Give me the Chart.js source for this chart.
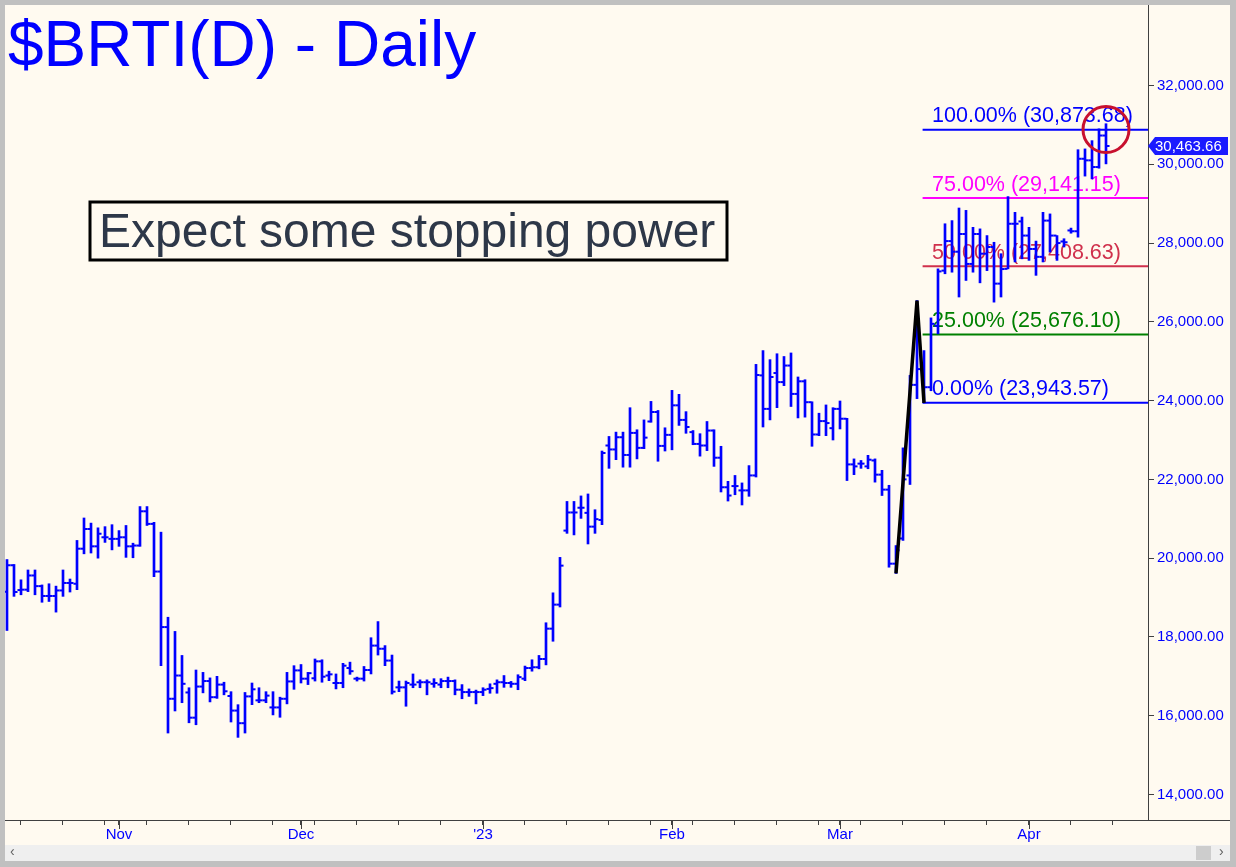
<!DOCTYPE html>
<html><head><meta charset="utf-8">
<script src="https://cdn.jsdelivr.net/npm/chart.js@4.4.1/dist/chart.umd.min.js"></script>
<style>html,body{margin:0;padding:0;background:#c0c0c0;overflow:hidden}canvas{display:block}</style>
</head><body>
<canvas id="c" width="1236" height="867"></canvas>
<script>
// ---------- data ----------
const dates = [
'2022-10-13','2022-10-14','2022-10-16','2022-10-17','2022-10-18','2022-10-19','2022-10-20','2022-10-21','2022-10-23','2022-10-24','2022-10-25','2022-10-26','2022-10-27','2022-10-28','2022-10-30','2022-10-31',
'2022-11-01','2022-11-02','2022-11-03','2022-11-04','2022-11-06','2022-11-07','2022-11-08','2022-11-09','2022-11-10','2022-11-11','2022-11-13','2022-11-14','2022-11-15','2022-11-16','2022-11-17','2022-11-18','2022-11-20','2022-11-21','2022-11-22','2022-11-23','2022-11-24','2022-11-25','2022-11-27','2022-11-28','2022-11-29','2022-11-30',
'2022-12-01','2022-12-02','2022-12-04','2022-12-05','2022-12-06','2022-12-07','2022-12-08','2022-12-09','2022-12-11','2022-12-12','2022-12-13','2022-12-14','2022-12-15','2022-12-16','2022-12-18','2022-12-19','2022-12-20','2022-12-21','2022-12-22','2022-12-23','2022-12-25','2022-12-26','2022-12-27','2022-12-28','2022-12-29','2022-12-30',
'2023-01-01','2023-01-02','2023-01-03','2023-01-04','2023-01-05','2023-01-06','2023-01-08','2023-01-09','2023-01-10','2023-01-11','2023-01-12','2023-01-13','2023-01-15','2023-01-16','2023-01-17','2023-01-18','2023-01-19','2023-01-20','2023-01-22','2023-01-23','2023-01-24','2023-01-25','2023-01-26','2023-01-27','2023-01-29','2023-01-30','2023-01-31',
'2023-02-01','2023-02-02','2023-02-03','2023-02-05','2023-02-06','2023-02-07','2023-02-08','2023-02-09','2023-02-10','2023-02-12','2023-02-13','2023-02-14','2023-02-15','2023-02-16','2023-02-17','2023-02-19','2023-02-20','2023-02-21','2023-02-22','2023-02-23','2023-02-24','2023-02-26','2023-02-27','2023-02-28',
'2023-03-01','2023-03-02','2023-03-03','2023-03-05','2023-03-06','2023-03-07','2023-03-08','2023-03-09','2023-03-10','2023-03-12','2023-03-13','2023-03-14','2023-03-15','2023-03-16','2023-03-17','2023-03-19','2023-03-20','2023-03-21','2023-03-22','2023-03-23','2023-03-24','2023-03-26','2023-03-27','2023-03-28','2023-03-29','2023-03-30','2023-03-31',
'2023-04-02','2023-04-03','2023-04-04','2023-04-05','2023-04-06','2023-04-07','2023-04-09','2023-04-10','2023-04-11','2023-04-12','2023-04-13','2023-04-14'
];
const opens = [
19150,19820,19190,19200,19560,19290,19040,19040,19180,19370,19350,20240,20740,20300,20530,20490,
20490,20530,20300,20320,21190,20870,19660,18250,16430,17020,16590,15950,16740,16880,16470,16790,16500,16130,15810,16490,16390,16390,16210,16210,16430,16870,
17150,16940,16950,17380,17020,16830,16830,17210,16940,16940,17160,17780,17700,17400,16720,16720,16790,16850,16850,16810,16790,16880,16880,16660,16600,16600,
16600,16680,16810,16850,16830,16810,16940,17210,17230,17440,18210,18820,20700,21160,21280,21150,20800,20970,22860,22760,23070,22620,23180,22800,23470,23710,22850,
23130,23880,23510,23200,22900,22860,23240,22550,21800,21830,21720,21720,22100,24640,23790,24700,24470,24890,24170,24490,23960,23140,23480,23300,
23790,23540,22380,22400,22330,22480,22120,21740,19860,20500,22100,24400,24806,24340,25900,27300,28050,27780,28230,27470,28230,27730,27900,26970,27345,28490,28550,
28190,27850,27650,28570,28190,28040,28320,28300,30140,30100,29930,30730
];
const highs = [
19965,19840,19450,19700,19700,19320,19350,19290,19700,19470,20450,21020,20890,20770,20800,20850,
20700,20830,20380,21310,21310,20910,20660,18500,18140,17530,16710,17160,17100,16960,17000,16850,16610,16280,16590,16830,16710,16610,16610,16470,17100,17270,
17300,17100,17440,17420,17130,17060,17330,17360,16980,17250,17980,18390,17780,17540,16880,16880,17060,16910,16910,16940,16940,16980,16910,16790,16680,16650,
16710,16810,16910,17020,16870,17040,17260,17420,17530,18360,19120,20020,21440,21440,21580,21630,21230,22720,23090,23200,23200,23820,23260,23510,23980,23750,23310,
24260,24160,23720,23240,23160,23470,23260,22840,21950,22100,21910,22350,24920,25270,25040,25190,25120,25210,24600,24530,23970,23680,23890,23820,
23990,23550,22520,22480,22610,22520,22230,21850,20320,22800,24640,26541,25270,26100,27345,28490,28570,28890,28830,28400,28360,28190,28020,27730,29180,28780,28660,
28400,28050,28780,28740,28190,28110,28380,30370,30390,30600,30900,31030
];
const lows = [
18163,19030,19070,19150,19070,18880,18900,18630,19030,19140,19200,20110,20130,20000,20400,20210,
20300,20020,20010,20300,20830,19530,17270,15560,16120,16330,15820,15770,16580,16350,16440,16530,15840,15450,15560,16280,16330,16330,16020,15960,16300,16670,
16830,16790,16880,16850,16890,16680,16710,17050,16880,16880,17060,17540,17270,16550,16610,16240,16710,16710,16530,16720,16710,16710,16530,16430,16490,16300,
16510,16570,16570,16720,16720,16660,16890,17130,17190,17290,17890,18760,20630,20590,21010,20360,20630,20850,22280,22500,22310,22310,22520,22780,23450,22460,22720,
22750,23370,23170,22880,22590,22730,22330,21680,21450,21610,21350,21570,22060,23330,23510,23820,24380,23850,23560,23580,22840,23110,23110,23000,
23280,21970,22120,22280,22270,21930,21590,19770,19612,20450,21870,24050,23943.57,24250,25695,27220,27260,26630,27050,27260,26990,27300,26500,26630,27345,27520,27600,
27560,27180,27520,27770,27560,27900,28250,28150,29700,29630,29900,30010
];
const closes = [
19820,19140,19200,19560,19290,19040,19040,19180,19370,19370,20240,20740,20300,20620,20530,20490,
20530,20300,20320,21190,20870,19660,18250,16430,17020,16810,15950,16740,16880,16470,16790,16620,16130,15810,16490,16670,16390,16510,16210,16430,16870,17150,
16940,17080,17380,16990,17050,16830,17270,17130,16940,17160,17780,17700,17400,16610,16720,16830,16790,16850,16850,16830,16880,16880,16660,16600,16600,16600,
16660,16700,16850,16830,16810,16980,17210,17230,17440,18210,18820,19810,21160,21160,21280,20800,20990,22670,22760,23070,22620,23180,22800,23060,23710,22850,23130,
23880,23510,23330,22900,22860,23240,22550,21800,21590,21830,21720,22100,24650,23790,24600,24470,24890,24170,24490,23960,23140,23480,23430,23790,
23540,22380,22330,22400,22500,22120,21740,19860,20200,22000,24400,24800,24340,25950,27280,28050,27780,28230,27470,28230,27730,27900,26970,27340,28490,28490,28190,
27850,27650,28570,28190,28000,28020,28300,30140,30100,29930,30730,30463.66
];
const lastPrice = 30463.66;
const yTicks = [14000,16000,18000,20000,22000,24000,26000,28000,30000,32000];
const monthNames = ['Jan','Feb','Mar','Apr','May','Jun','Jul','Aug','Sep','Oct','Nov','Dec'];
const fibLevels = [30873.68, 29141.15, 27408.63, 25676.10, 23943.57];
const fibPct = ['100.00%','75.00%','50.00%','25.00%','0.00%'];
const fibColors = ['#0000ff','#ff00ff','#d0304c','#008000','#0000ff'];
const abcIdx = [127, 130, 131];
const abcVal = [19612, 26541, 23943.57];
const circleIdx = 157.0, circleVal = 30883;
const titleText = '$BRTI(D) - Daily';
const noteText = 'Expect some stopping power';

// ---------- derived helpers ----------
const X_MIN = -0.2857, X_MAX = 163.0, Y_MIN = 13352, Y_MAX = 34044;
const fibStartIdx = 130.8, fibLabelIdx = 132.15;
const monthIdx = {};
dates.forEach((d, i) => {
  const m = +d.slice(5, 7), prev = i ? +dates[i - 1].slice(5, 7) : null;
  if (i > 0 && m !== prev) monthIdx[i] = (m === 1) ? "'" + d.slice(2, 4) : monthNames[m - 1];
});
const weekIdx = [];
dates.forEach((d, i) => { if (new Date(d + 'T12:00:00Z').getUTCDay() === 0) weekIdx.push(i); });
while (weekIdx[weekIdx.length - 1] + 6 < X_MAX - 1) weekIdx.push(weekIdx[weekIdx.length - 1] + 6);
const xTickVals = Array.from(new Set([...weekIdx, ...Object.keys(monthIdx).map(Number)])).sort((a, b) => a - b);
const fmt = v => Number(v).toLocaleString('en-US', {minimumFractionDigits: 2, maximumFractionDigits: 2});
const FONT = '"Liberation Sans", Arial, sans-serif';

const bgPlugin = {
  id: 'bg',
  beforeDraw(chart) {
    const c = chart.ctx;
    c.save();
    c.fillStyle = '#c0c0c0'; c.fillRect(0, 0, 1236, 867);
    c.fillStyle = '#fffaf0'; c.fillRect(5, 5, 1225, 840);
    c.fillStyle = '#efefef'; c.fillRect(5, 845, 1225, 16);
    c.fillStyle = '#cdcdcd'; c.fillRect(1196, 846, 15, 14);
    c.fillStyle = '#606060'; c.font = '14px ' + FONT; c.textBaseline = 'middle';
    c.fillText('\u2039', 10, 852); c.fillText('\u203A', 1219, 852);
    c.restore();
  },
  beforeDatasetsDraw(chart) {
    const c = chart.ctx, ys = chart.scales.y, xs = chart.scales.x;
    c.save();
    c.font = '21.5px ' + FONT; c.textBaseline = 'alphabetic'; c.textAlign = 'left';
    fibLevels.forEach((lv, k) => {
      c.fillStyle = fibColors[k];
      c.fillText(fibPct[k] + ' (' + fmt(lv) + ')', xs.getPixelForValue(fibLabelIdx), ys.getPixelForValue(lv) - 7.5);
    });
    c.restore();
  },
  afterDraw(chart) {
    const c = chart.ctx, ys = chart.scales.y, xs = chart.scales.x, a = chart.chartArea;
    c.save();
    c.strokeStyle = '#404040'; c.lineWidth = 1;
    c.beginPath(); c.moveTo(a.right, a.bottom + 0.5); c.lineTo(1230, a.bottom + 0.5); c.stroke();
    Object.keys(monthIdx).forEach(k => {
      const px = Math.round(xs.getPixelForValue(+k)) + 0.5;
      c.beginPath(); c.moveTo(px, a.bottom); c.lineTo(px, a.bottom + 9); c.stroke();
    });
    c.fillStyle = '#0000ff'; c.font = '64px ' + FONT; c.textBaseline = 'alphabetic';
    c.fillText(titleText, 8, 66);
    c.fillStyle = '#fffaf0'; c.fillRect(89, 201, 639, 60);
    c.strokeStyle = '#000000'; c.lineWidth = 3; c.strokeRect(90, 202, 637, 58);
    c.fillStyle = '#2d3748'; c.font = '48px ' + FONT;
    c.fillText(noteText, 99, 247);
    const py = Math.round(ys.getPixelForValue(lastPrice));
    c.fillStyle = '#1a1aff';
    c.beginPath(); c.moveTo(a.right, py); c.lineTo(a.right + 7, py - 9); c.lineTo(1228, py - 9);
    c.lineTo(1228, py + 9); c.lineTo(a.right + 7, py + 9); c.closePath(); c.fill();
    c.fillStyle = '#ffffff'; c.font = '15px ' + FONT; c.textBaseline = 'middle';
    c.fillText(fmt(lastPrice), 1155, py + 1);
    c.restore();
  }
};

const datasets = [
  { type: 'bar', data: highs.map((h, i) => ({x: i, y: [lows[i], h]})), backgroundColor: '#0000ff',
    borderWidth: 0, barThickness: 2, grouped: false, order: 3 },
  { type: 'scatter', data: opens.map((o, i) => ({x: i - 0.29, y: o})), pointStyle: 'line', pointRadius: 1.5,
    pointBorderWidth: 2, pointBorderColor: '#0000ff', borderColor: '#0000ff', showLine: false, order: 2 },
  { type: 'scatter', data: closes.map((o, i) => ({x: i + 0.29, y: o})), pointStyle: 'line', pointRadius: 1.5,
    pointBorderWidth: 2, pointBorderColor: '#0000ff', borderColor: '#0000ff', showLine: false, order: 2 }
];
fibLevels.forEach((lv, k) => datasets.push({
  type: 'line', data: [{x: fibStartIdx, y: lv}, {x: X_MAX, y: lv}], borderColor: fibColors[k],
  borderWidth: 2, pointRadius: 0, order: 4 }));
datasets.push({ type: 'line', data: abcIdx.map((x, k) => ({x, y: abcVal[k]})), borderColor: '#000000',
  borderWidth: 3.5, pointRadius: 0, tension: 0, order: 1 });
datasets.push({ type: 'scatter', data: [{x: circleIdx, y: circleVal}], pointStyle: 'circle', pointRadius: 23,
  pointBorderColor: '#c8102e', pointBorderWidth: 3, pointBackgroundColor: 'rgba(0,0,0,0)', order: 0, clip: false });

new Chart(document.getElementById('c'), {
  type: 'bar',
  data: { datasets },
  options: {
    responsive: false, animation: false, devicePixelRatio: 1,
    layout: { autoPadding: false, padding: { left: 5, top: 5, right: 0, bottom: 0 } },
    plugins: { legend: { display: false }, tooltip: { enabled: false }, title: { display: false } },
    scales: {
      x: {
        type: 'linear', min: X_MIN, max: X_MAX, offset: false,
        afterFit(s) { s.height = 47; s.paddingLeft = 0; s.paddingRight = 0; },
        afterBuildTicks(s) { s.ticks = xTickVals.map(v => ({value: v})); },
        ticks: { autoSkip: false, maxRotation: 0, minRotation: 0, padding: 1, color: '#0000ff',
          font: { size: 15, family: FONT }, callback: v => monthIdx[v] || '' },
        grid: { drawOnChartArea: false, offset: false, tickLength: 5, color: '#404040' },
        border: { color: '#404040', width: 1 }
      },
      y: {
        position: 'right', min: Y_MIN, max: Y_MAX,
        afterFit(s) { s.width = 88; s.paddingTop = 0; s.paddingBottom = 0; },
        afterBuildTicks(s) { s.ticks = yTicks.map(v => ({value: v})); },
        ticks: { padding: 3, color: '#0000ff', font: { size: 15, family: FONT }, callback: v => fmt(v) },
        grid: { drawOnChartArea: false, tickLength: 6, color: '#404040' },
        border: { color: '#404040', width: 1 }
      }
    }
  },
  plugins: [bgPlugin]
});
</script>
</body></html>
